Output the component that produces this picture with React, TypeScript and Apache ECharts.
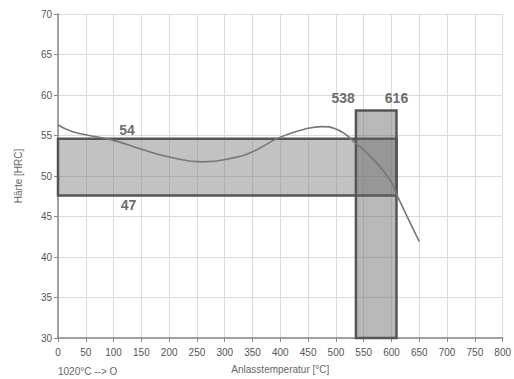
import React, { useEffect, useRef } from "react";
import * as echarts from "echarts";

const curveX = [0, 25, 50, 100, 150, 200, 260, 320, 350, 400, 450, 475, 500, 538, 575, 600, 610, 650];
const curveY = [56.3, 55.5, 55.1, 54.4, 53.3, 52.35, 51.75, 52.3, 53.0, 54.8, 55.9, 56.1, 55.8, 53.9, 51.5, 49.2, 47.6, 41.9];

// bands: [x0, y0, x1, y1]
const hBand = [0, 47.6, 609, 54.6];
const vBand = [536, 30, 609, 58.1];

const annotX = [124, 127, 513, 609];
const annotY = [55.7, 46.4, 59.6, 59.6];
const annotText = ["54", "47", "538", "616"];

const xTicks = { min: 0, max: 800, interval: 50 };
const yTicks = { min: 30, max: 70, interval: 5 };

const FONT = "'Liberation Sans Narrow', 'Liberation Sans', Arial, sans-serif";

export default function App() {
  const ref = useRef<HTMLDivElement>(null);
  useEffect(() => {
    const chart = echarts.init(ref.current!, null, { renderer: "svg" });
    const rectRender = (fill: string) => (params: any, api: any) => {
      const p0 = api.coord([api.value(0), api.value(3)]);
      const p1 = api.coord([api.value(2), api.value(1)]);
      return {
        type: "rect",
        shape: { x: p0[0], y: p0[1], width: p1[0] - p0[0], height: p1[1] - p0[1] },
        style: { fill, stroke: "#555", lineWidth: 2.5 },
      };
    };
    chart.setOption({
      animation: false,
      grid: { left: 58, right: 6, top: 14, bottom: 38 },
      xAxis: {
        type: "value",
        min: xTicks.min,
        max: xTicks.max,
        interval: xTicks.interval,
        name: "Anlasstemperatur [°C]",
        nameLocation: "middle",
        nameGap: 26,
        nameTextStyle: { color: "#666", fontSize: 10, fontFamily: FONT },
        axisLine: { lineStyle: { color: "#888", width: 1.5 } },
        axisTick: { show: true, length: 4, lineStyle: { color: "#888" } },
        axisLabel: { color: "#555", fontSize: 10, fontFamily: FONT, margin: 9 },
        splitLine: { lineStyle: { color: "#dcdcdc" } },
      },
      yAxis: {
        type: "value",
        min: yTicks.min,
        max: yTicks.max,
        interval: yTicks.interval,
        name: "Härte [HRC]",
        nameLocation: "middle",
        nameGap: 35,
        nameRotate: 90,
        nameTextStyle: { color: "#666", fontSize: 10, fontFamily: FONT },
        axisLine: { show: true, lineStyle: { color: "#888", width: 1.5 } },
        axisTick: { show: true, length: 4, lineStyle: { color: "#888" } },
        axisLabel: { color: "#555", fontSize: 10, fontFamily: FONT, margin: 6 },
        splitLine: { lineStyle: { color: "#dcdcdc" } },
      },
      graphic: [
        {
          type: "text",
          left: 58,
          top: 366,
          style: { text: "1020°C --> O", fill: "#666", fontSize: 10, fontFamily: FONT },
        },
      ],
      series: [
        {
          type: "custom",
          renderItem: rectRender("rgba(110,110,110,0.42)"),
          data: [hBand],
          z: 2,
        },
        {
          type: "custom",
          renderItem: rectRender("rgba(100,100,100,0.45)"),
          data: [vBand],
          z: 3,
        },
        {
          type: "line",
          data: curveX.map((x, i) => [x, curveY[i]]),
          smooth: 0.5,
          showSymbol: false,
          lineStyle: { color: "#777", width: 1.6 },
          z: 4,
        },
        {
          type: "scatter",
          symbolSize: 0,
          data: annotX.map((x, i) => ({ value: [x, annotY[i]], name: annotText[i] })),
          label: {
            show: true,
            position: "inside",
            formatter: (p: any) => p.name,
            color: "#444",
            fontSize: 14,
            fontWeight: "bold",
            fontFamily: FONT,
          },
          z: 5,
        },
      ],
    });
    return () => chart.dispose();
  }, []);
  return <div ref={ref} style={{ width: 514, height: 379, position: "absolute", left: 0, top: 0 }} />;
}
